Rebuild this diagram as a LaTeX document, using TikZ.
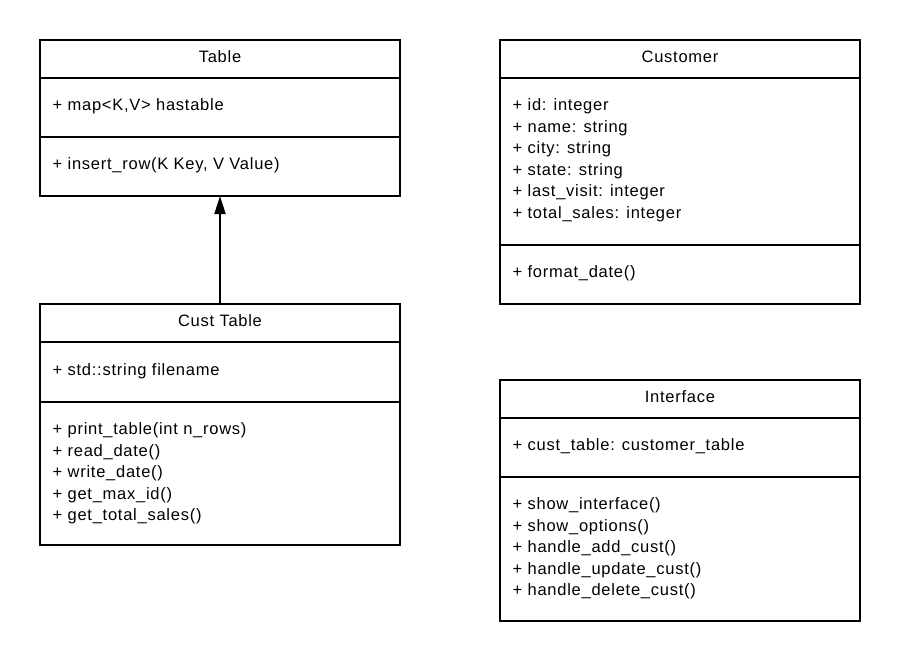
\documentclass[tikz,border=0pt]{standalone}
\usepackage{fontspec}
\setmainfont{Liberation Sans}[LetterSpace=4.5]
\usetikzlibrary{arrows.meta}
\begin{document}
\begin{tikzpicture}[x=1pt,y=-1pt,
  cls/.style={draw=black,line width=2pt,rectangle,minimum width=360pt,inner sep=0pt,outer sep=0pt},
  sepline/.style={line width=2pt},
  lbl/.style={anchor=base west,inner sep=0pt,font=\fontsize{16.5}{19}\selectfont},
  ttl/.style={anchor=base,inner sep=0pt,font=\fontsize{16.5}{19}\selectfont},
  inherit/.style={line width=2pt,-{Triangle[length=18pt,width=11pt]}}]
\useasboundingbox (0,0) rectangle (900,662);
\fill[white] (0,0) rectangle (900,662);

% ---------- Table ----------
\node[cls,minimum height=156pt] (tbl) at (220,118) {};
\draw[sepline] ([yshift=-38pt]tbl.north west) -- ([yshift=-38pt]tbl.north east);
\draw[sepline] ([yshift=-97pt]tbl.north west) -- ([yshift=-97pt]tbl.north east);
\node[ttl] (tblT) at (220,62.5) {Table};
\node[lbl] (tblA1) at (52.5,110.5) {+ map<K,V> hastable};
\node[lbl] (tblM1) at (52.5,169.5) {+ insert\_row(K Key, V Value)};

% ---------- Customer ----------
\node[cls,minimum height=264pt] (cus) at (680,172) {};
\draw[sepline] ([yshift=-38pt]cus.north west) -- ([yshift=-38pt]cus.north east);
\draw[sepline] ([yshift=-205pt]cus.north west) -- ([yshift=-205pt]cus.north east);
\node[ttl] (cusT) at (680,62.5) {Customer};
\node[lbl] (cusA1) at (512.5,110.5) {+ id: integer};
\node[lbl] (cusA2) at (512.5,132) {+ name: string};
\node[lbl] (cusA3) at (512.5,153.5) {+ city: string};
\node[lbl] (cusA4) at (512.5,175) {+ state: string};
\node[lbl] (cusA5) at (512.5,196.5) {+ last\_visit: integer};
\node[lbl] (cusA6) at (512.5,218) {+ total\_sales: integer};
\node[lbl] (cusM1) at (512.5,277.5) {+ format\_date()};

% ---------- Cust Table ----------
\node[cls,minimum height=241pt] (ct) at (220,424.5) {};
\draw[sepline] ([yshift=-38pt]ct.north west) -- ([yshift=-38pt]ct.north east);
\draw[sepline] ([yshift=-98pt]ct.north west) -- ([yshift=-98pt]ct.north east);
\node[ttl] (ctT) at (220,326.5) {Cust Table};
\node[lbl] (ctA1) at (52.5,375) {+ std::string filename};
\node[lbl] (ctM1) at (52.5,434.5) {+ print\_table(int n\_rows)};
\node[lbl] (ctM2) at (52.5,456) {+ read\_date()};
\node[lbl] (ctM3) at (52.5,477.5) {+ write\_date()};
\node[lbl] (ctM4) at (52.5,499) {+ get\_max\_id()};
\node[lbl] (ctM5) at (52.5,520.5) {+ get\_total\_sales()};

% ---------- Interface ----------
\node[cls,minimum height=241pt] (ifc) at (680,500.5) {};
\draw[sepline] ([yshift=-38pt]ifc.north west) -- ([yshift=-38pt]ifc.north east);
\draw[sepline] ([yshift=-97pt]ifc.north west) -- ([yshift=-97pt]ifc.north east);
\node[ttl] (ifcT) at (680,402.5) {Interface};
\node[lbl] (ifcA1) at (512.5,450.5) {+ cust\_table: customer\_table};
\node[lbl] (ifcM1) at (512.5,509.5) {+ show\_interface()};
\node[lbl] (ifcM2) at (512.5,531) {+ show\_options()};
\node[lbl] (ifcM3) at (512.5,552.5) {+ handle\_add\_cust()};
\node[lbl] (ifcM4) at (512.5,574) {+ handle\_update\_cust()};
\node[lbl] (ifcM5) at (512.5,595.5) {+ handle\_delete\_cust()};

% ---------- inheritance ----------
\draw[inherit] (ct.north) -- (tbl.south);
\end{tikzpicture}
\end{document}
